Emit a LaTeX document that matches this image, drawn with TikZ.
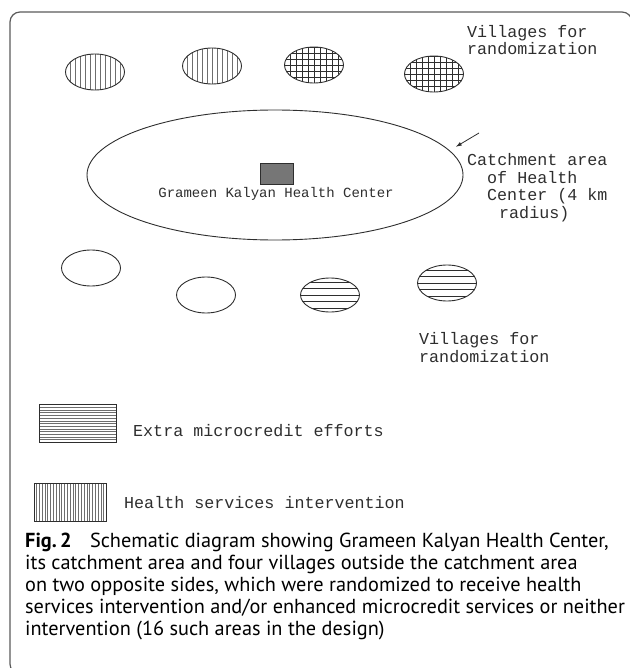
\documentclass[tikz,border=0pt]{standalone}
\usepackage{fontspec}
\setmonofont{Liberation Mono}
\newfontfamily\capfont{PT Sans}
\usetikzlibrary{arrows.meta,shapes.geometric}
\definecolor{ink}{HTML}{2E2E2E}
\definecolor{hatch}{HTML}{6E6E6E}
\definecolor{frame}{HTML}{5A5A5A}
\definecolor{center}{HTML}{767676}
\tikzset{
  >={Latex[length=6pt,width=4pt]},
  every node/.style={text=ink},
  vlines/.style={path picture={\foreach \k in {-20,...,20}
    \draw[draw=hatch,line width=0.6pt] ([xshift=\k*#1]path picture bounding box.north) -- ([xshift=\k*#1]path picture bounding box.south);}},
  hlines/.style={path picture={\foreach \k in {-20,...,20}
    \draw[draw=ink,line width=0.6pt] ([yshift=\k*#1]path picture bounding box.west) -- ([yshift=\k*#1]path picture bounding box.east);}},
  hgreylines/.style={path picture={\foreach \k in {-20,...,20}
    \draw[draw=hatch,line width=0.6pt] ([yshift=\k*#1]path picture bounding box.west) -- ([yshift=\k*#1]path picture bounding box.east);}},
  xlines/.style={path picture={\foreach \k in {-20,...,20} {
    \draw[draw=ink,line width=0.7pt] ([xshift=\k*#1]path picture bounding box.north) -- ([xshift=\k*#1]path picture bounding box.south);
    \draw[draw=ink,line width=0.7pt] ([yshift=\k*#1]path picture bounding box.west) -- ([yshift=\k*#1]path picture bounding box.east);}}},
  village/.style={ellipse,draw=ink,line width=0.9pt,minimum width=59pt,minimum height=36pt,inner sep=0pt},
  vvillage/.style={village,vlines=5pt},
  xvillage/.style={village,xlines=6pt},
  hvillage/.style={village,hlines=6.5pt},
  legendbox/.style={draw=ink,line width=0.9pt,minimum width=77pt,minimum height=38pt,inner sep=0pt},
  mono/.style={font=\fontsize{16.7}{17.7}\selectfont\ttfamily,inner sep=0pt,align=left},
  pointer/.style={->,line width=0.8pt,draw=ink},
  framebox/.style={draw=frame,line width=1.2pt,rounded corners=10pt},
}

\begin{document}
\begin{tikzpicture}[x=1pt,y=-1pt]
\useasboundingbox (0,0) rectangle (629,668);
\draw[framebox] (10,12) rectangle (632,674);
\node[vvillage] (vt1) at (95,72) {};
\node[vvillage] (vt2) at (212,66) {};
\node[xvillage] (vt3) at (314,65) {};
\node[xvillage] (vt4) at (434,74) {};
\node[mono,anchor=north west] (vtlabel) at (467,25) {Villages for\\randomization};
\node[ellipse,draw=ink,line width=0.9pt,minimum width=376pt,minimum height=130pt,inner sep=0pt] (catch) at (275,175) {};
\node[draw=ink,line width=0.8pt,fill=center,minimum width=33pt,minimum height=21pt,inner sep=0pt] (hc) at (276.5,173.5) {};
\node[font=\fontsize{14}{16}\selectfont\ttfamily,inner sep=0pt,anchor=base] (hclabel) at (276,197) {Grameen Kalyan Health Center};
\node[mono,anchor=north west] (catchlabel) at (467,153) {Catchment area\\\hspace*{20pt}of Health\\\hspace*{20pt}Center (4 km\\\hspace*{32pt}radius)};
\coordinate (tail) at (479,133);
\draw[pointer,shorten >=7pt] (tail) -- (catch.8);
\node[village] (vb1) at (91,268) {};
\node[village] (vb2) at (206,295) {};
\node[hvillage,minimum height=34pt] (vb3) at (330,295) {};
\node[hvillage] (vb4) at (447,283) {};
\node[mono,anchor=north west] (vblabel) at (419,332) {Villages for\\randomization};
\node[legendbox,hgreylines=2.7pt] (leg1) at (77.5,423.5) {};
\node[mono,anchor=base west] (leg1label) at (133,436) {Extra microcredit efforts};
\node[legendbox,minimum width=72pt,vlines=2.8pt] (leg2) at (70,502.5) {};
\node[mono,anchor=base west] (leg2label) at (124,508) {Health services intervention};
\node[anchor=north west,inner sep=0pt,align=left,text=black,font=\capfont\fontsize{20.3}{22}\selectfont] (caption) at (25,533)
  {\textbf{Fig.\,2}\hspace{0.9em}Schematic diagram showing Grameen Kalyan Health Center,\\
   its catchment area and four villages outside the catchment area\\
   on two opposite sides, which were randomized to receive health\\
   services intervention and/or enhanced microcredit services or neither\\
   intervention (16 such areas in the design)};
\end{tikzpicture}
\end{document}
